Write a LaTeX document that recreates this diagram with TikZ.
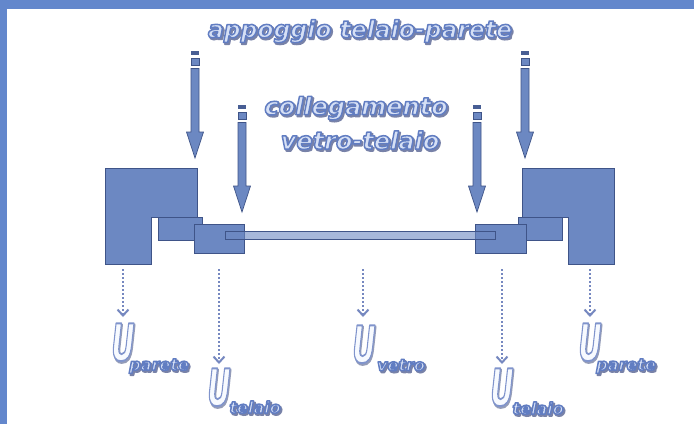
\documentclass[tikz,border=0pt]{standalone}
\usepackage{fontspec}
\setmainfont{DejaVu Sans}
\newfontfamily\labelfont{DejaVu Sans Bold Oblique}
\usetikzlibrary{arrows.meta}
\definecolor{bandblue}{HTML}{6387CC}
\definecolor{partblue}{HTML}{6C88C2}
\definecolor{edgeblue}{HTML}{3F5488}
\definecolor{dotblue}{HTML}{7688C0}
% stroke-and-fill text: line width, then r g b of the fill, then r g b of the stroke
\newcommand{\paintedtext}[4]{\special{pdf:code q #1 w 1 j #2 rg #3 RG 2 Tr}#4\special{pdf:code 0 Tr Q}}
% one node holds the word with its drop shadow under it
\newcommand{\shadowed}[2]{%
  \rlap{\kern1.5pt\raisebox{-1.7pt}{\paintedtext{1.9}{0.47 0.51 0.66}{0.47 0.51 0.66}{#2}}}%
  \paintedtext{#1}{0.84 0.88 0.96}{0.38 0.49 0.76}{#2}}
\newcommand{\ushadowed}[1]{%
  \rlap{\kern1.5pt\raisebox{-1.5pt}{\paintedtext{2.4}{0.58 0.61 0.72}{0.58 0.61 0.72}{#1}}}%
  \paintedtext{1.9}{0.97 0.98 1}{0.50 0.58 0.80}{#1}}
\newcommand{\fancylabel}[5]{% name, x, y, font, text
  \node[lbl,font=#4] (#1) at (#2,#3) {\shadowed{1.5}{#5}};}
\newcommand{\bigU}[3]{% name, x, y
  \node[lbl,font=\labelfont\fontsize{51}{51}\selectfont,xscale=0.56] (#1) at (#2,#3) {\ushadowed{U}};}
\newcommand{\bigarrow}[2]{% x, y of top
  \fill[edgeblue!80!partblue] (#1-4,#2) rectangle (#1+4,#2+4);
  \draw[bigarrow] (#1-4,#2+7.5) rectangle (#1+4,#2+14);
  \draw[bigarrow] (#1-4,#2+17.5) -- (#1-4,#2+81) -- (#1-8.5,#2+81) -- (#1,#2+107) -- (#1+8.5,#2+81) -- (#1+4,#2+81) -- (#1+4,#2+17.5) -- cycle;}
\tikzset{
  part/.style={draw=edgeblue,fill=partblue,line width=0.9pt,line join=miter},
  bigarrow/.style={draw=edgeblue,fill=partblue,line width=0.7pt},
  dotted arrow/.style={draw=dotblue,line width=2pt,dash pattern=on 2pt off 2pt,
    -{Straight Barb[length=6pt,width=11pt,line width=2pt]}},
  lbl/.style={inner sep=0pt,align=center},
}
\begin{document}
\begin{tikzpicture}[x=1pt,y=-1pt]
\useasboundingbox (0,0) rectangle (694,424);
\fill[white] (0,0) rectangle (694,424);
\fill[bandblue] (0,0) rectangle (694,9);
\fill[bandblue] (0,0) rectangle (7,424);
% headings
\fancylabel{t1}{360}{32}{\labelfont\fontsize{23.5}{27}\selectfont}{appoggio telaio-parete}
\fancylabel{t2}{356}{109}{\labelfont\fontsize{24}{28}\selectfont}{collegamento}
\fancylabel{t3}{360}{141}{\labelfont\fontsize{24}{28}\selectfont}{vetro-telaio}
% big arrows
\bigarrow{195}{51}
\bigarrow{242}{105}
\bigarrow{477}{105}
\bigarrow{525}{51}
% walls and frames
\draw[part] (105,168) -- (197,168) -- (197,217) -- (151,217) -- (151,264) -- (105,264) -- cycle;
\draw[part] (158,217) rectangle (202,240);
\draw[part] (194,224) rectangle (244,253);
\draw[part] (614,168) -- (522,168) -- (522,217) -- (568,217) -- (568,264) -- (614,264) -- cycle;
\draw[part] (562,217) rectangle (518,240);
\draw[part] (526,224) rectangle (475,253);
\draw[draw=edgeblue,fill=partblue,fill opacity=0.6,line width=0.9pt] (225,231) rectangle (495,239);
% U labels
\bigU{u1}{123}{343}
\bigU{u2}{219}{388}
\bigU{u3}{364}{345}
\bigU{u4}{502}{388}
\bigU{u5}{590}{343}
\fancylabel{s1}{159}{367}{\labelfont\fontsize{16}{18}\selectfont}{parete}
\fancylabel{s2}{255}{408}{\labelfont\fontsize{16}{18}\selectfont}{telaio}
\fancylabel{s3}{401}{366}{\labelfont\fontsize{16}{18}\selectfont}{vetro}
\fancylabel{s4}{538}{409}{\labelfont\fontsize{16}{18}\selectfont}{telaio}
\fancylabel{s5}{626}{367}{\labelfont\fontsize{16}{18}\selectfont}{parete}
% dotted connectors
\coordinate (d1) at (123,269); \coordinate (e1) at (123,317);
\coordinate (d2) at (219,269); \coordinate (e2) at (219,364);
\coordinate (d3) at (363,269); \coordinate (e3) at (363,317);
\coordinate (d4) at (502,269); \coordinate (e4) at (502,364);
\coordinate (d5) at (590,269); \coordinate (e5) at (590,317);
\foreach \i in {1,...,5} {\draw[dotted arrow] (d\i) -- (e\i);}
\end{tikzpicture}
\end{document}
